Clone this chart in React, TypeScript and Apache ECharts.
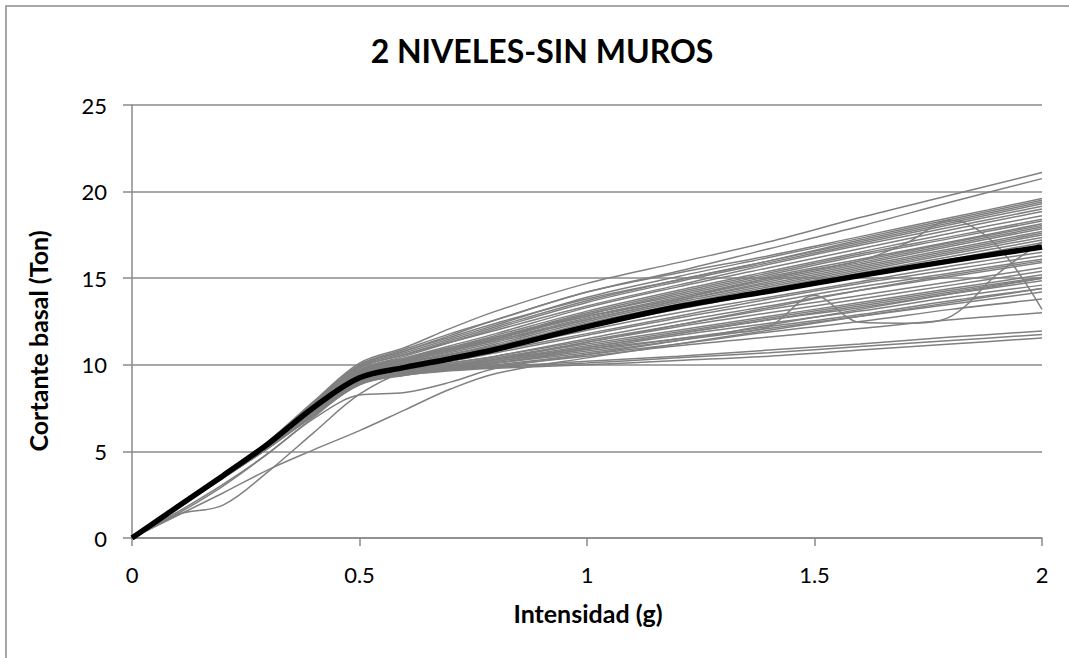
import React, { useEffect, useRef } from "react";
import * as echarts from "echarts";

// Intensity grids (g)
const intensity = [0, 0.1, 0.2, 0.3, 0.4, 0.5, 0.6, 0.7, 0.8, 1.0, 1.2, 1.4, 1.6, 1.8, 2.0];
const intensityFine = [0, 0.1, 0.2, 0.3, 0.4, 0.5, 0.6, 0.7, 0.8, 0.9, 1.0, 1.1, 1.2, 1.3, 1.4, 1.5, 1.6, 1.7, 1.8, 1.9, 2.0];

const xTickLabels = ["0", "0.5", "1", "1.5", "2"];
const yTickLabels = ["0", "5", "10", "15", "20", "25"];

const chartTitle = "2 NIVELES-SIN MUROS";
const xName = "Intensidad (g)";
const yName = "Cortante basal (Ton)";

// Individual records (base shear, Ton) on the coarse grid
const run01 = [0, 1.8, 3.65, 5.6, 7.9, 10.1, 11.0, 12.1, 13.1, 14.7, 15.9, 17.1, 18.5, 19.8, 21.1];
const run02 = [0, 1.8, 3.65, 5.55, 7.8, 10.0, 10.8, 11.7, 12.6, 14.2, 15.4, 16.7, 18.0, 19.4, 20.75];
const run03 = [0, 1.8, 3.65, 5.6, 7.85, 10.0, 10.9, 11.8, 12.6, 14.2, 15.3, 16.3, 17.4, 18.5, 19.6];
const run04 = [0, 1.8, 3.6, 5.5, 7.7, 9.9, 10.7, 11.5, 12.3, 13.9, 15.1, 16.2, 17.3, 18.4, 19.5];
const run05 = [0, 1.8, 3.65, 5.55, 7.8, 9.95, 10.8, 11.6, 12.4, 13.8, 14.9, 16.0, 17.2, 18.3, 19.4];
const run06 = [0, 1.8, 3.6, 5.5, 7.7, 9.8, 10.6, 11.4, 12.2, 13.7, 14.9, 16.0, 17.1, 18.2, 19.3];
const run07 = [0, 1.8, 3.6, 5.45, 7.6, 9.7, 10.5, 11.3, 12.1, 13.6, 14.8, 15.9, 17.0, 18.1, 19.15];
const run08 = [0, 1.8, 3.6, 5.5, 7.7, 9.85, 10.6, 11.3, 12.0, 13.4, 14.6, 15.8, 16.9, 17.95, 19.0];
const run09 = [0, 1.8, 3.6, 5.45, 7.6, 9.7, 10.4, 11.1, 11.8, 13.3, 14.5, 15.6, 16.7, 17.8, 18.85];
const run10 = [0, 1.8, 3.6, 5.45, 7.55, 9.6, 10.3, 11.0, 11.7, 13.1, 14.3, 15.4, 16.5, 17.6, 18.6];
const run11 = [0, 1.8, 3.6, 5.5, 7.65, 9.7, 10.4, 11.0, 11.6, 13.0, 14.2, 15.3, 16.4, 17.4, 18.4];
const run12 = [0, 1.8, 3.6, 5.45, 7.55, 9.6, 10.3, 10.9, 11.6, 12.9, 14.1, 15.2, 16.3, 17.3, 18.3];
const run13 = [0, 1.8, 3.55, 5.4, 7.5, 9.5, 10.2, 10.8, 11.5, 12.9, 14.0, 15.1, 16.1, 17.1, 18.15];
const run14 = [0, 1.8, 3.6, 5.45, 7.6, 9.65, 10.3, 10.9, 11.5, 12.8, 13.9, 15.0, 16.0, 17.05, 18.05];
const run15 = [0, 1.8, 3.6, 5.4, 7.5, 9.55, 10.2, 10.8, 11.4, 12.7, 13.8, 14.9, 15.9, 16.95, 17.95];
const run16 = [0, 1.8, 3.55, 5.4, 7.45, 9.5, 10.1, 10.7, 11.3, 12.6, 13.7, 14.8, 15.8, 16.85, 17.85];
const run17 = [0, 1.8, 3.6, 5.45, 7.55, 9.6, 10.2, 10.8, 11.4, 12.6, 13.7, 14.7, 15.7, 16.7, 17.7];
const run18 = [0, 1.8, 3.55, 5.4, 7.5, 9.5, 10.1, 10.6, 11.2, 12.5, 13.6, 14.6, 15.6, 16.6, 17.6];
const run19 = [0, 1.8, 3.6, 5.4, 7.5, 9.5, 10.1, 10.6, 11.1, 12.4, 13.5, 14.5, 15.5, 16.5, 17.5];
const run20 = [0, 1.8, 3.55, 5.35, 7.4, 9.4, 10.0, 10.5, 11.0, 12.3, 13.4, 14.4, 15.4, 16.4, 17.35];
const run21 = [0, 1.8, 3.6, 5.45, 7.55, 9.6, 10.2, 10.6, 11.1, 12.3, 13.3, 14.3, 15.3, 16.25, 17.2];
const run22 = [0, 1.8, 3.55, 5.4, 7.45, 9.45, 10.0, 10.5, 11.0, 12.2, 13.2, 14.2, 15.2, 16.1, 17.05];
const run23 = [0, 1.8, 3.55, 5.35, 7.4, 9.3, 9.9, 10.4, 10.9, 12.0, 13.0, 13.9, 14.8, 15.7, 16.5];
const run24 = [0, 1.8, 3.6, 5.4, 7.45, 9.35, 9.9, 10.3, 10.8, 11.8, 12.8, 13.8, 14.7, 15.5, 16.3];
const run25 = [0, 1.8, 3.55, 5.35, 7.35, 9.2, 9.8, 10.2, 10.7, 11.7, 12.7, 13.6, 14.5, 15.3, 16.1];
const run26 = [0, 1.75, 3.5, 5.3, 7.3, 9.1, 9.7, 10.1, 10.5, 11.5, 12.5, 13.4, 14.3, 15.1, 15.9];
const run27 = [0, 1.8, 3.55, 5.35, 7.35, 9.2, 9.75, 10.1, 10.5, 11.4, 12.3, 13.2, 14.0, 14.8, 15.6];
const run28 = [0, 1.75, 3.5, 5.3, 7.25, 9.0, 9.6, 10.0, 10.4, 11.3, 12.2, 13.0, 13.8, 14.6, 15.4];
const run29 = [0, 1.8, 3.55, 5.35, 7.3, 9.1, 9.7, 10.0, 10.4, 11.2, 12.0, 12.8, 13.6, 14.4, 15.2];
const run30 = [0, 1.75, 3.5, 5.25, 7.2, 9.0, 9.6, 9.9, 10.3, 11.1, 11.9, 12.7, 13.5, 14.3, 15.05];
const run31 = [0, 1.75, 3.5, 5.3, 7.25, 9.05, 9.6, 9.9, 10.2, 11.0, 11.8, 12.6, 13.3, 14.1, 14.85];
const run32 = [0, 1.75, 3.5, 5.25, 7.2, 9.0, 9.55, 9.85, 10.2, 10.9, 11.7, 12.4, 13.1, 13.9, 14.6];
const run33 = [0, 1.75, 3.5, 5.25, 7.15, 8.95, 9.5, 9.8, 10.1, 10.8, 11.5, 12.2, 12.9, 13.7, 14.4];
const run34 = [0, 1.75, 3.5, 5.3, 7.2, 9.0, 9.5, 9.8, 10.1, 10.7, 11.4, 12.1, 12.8, 13.5, 14.2];
const run35 = [0, 1.75, 3.45, 5.2, 7.1, 8.9, 9.45, 9.75, 10.0, 10.6, 11.2, 11.9, 12.5, 13.2, 13.8];
const run36 = [0, 1.75, 3.5, 5.2, 7.1, 8.85, 9.4, 9.7, 9.95, 10.5, 11.1, 11.6, 12.1, 12.6, 13.0];
const run37 = [0, 1.75, 3.5, 5.25, 7.15, 8.95, 9.5, 9.75, 9.9, 10.2, 10.5, 10.85, 11.2, 11.6, 11.95];
const run38 = [0, 1.75, 3.45, 5.2, 7.1, 8.9, 9.45, 9.7, 9.85, 10.1, 10.4, 10.7, 11.05, 11.4, 11.75];
const run39 = [0, 1.75, 3.5, 5.2, 7.1, 8.85, 9.4, 9.65, 9.8, 10.0, 10.25, 10.5, 10.85, 11.2, 11.55];
const run40 = [0, 1.35, 1.9, 3.85, 6.1, 8.3, 9.6, 10.0, 10.3, 11.0, 11.8, 12.6, 13.4, 14.2, 15.0];
const run41 = [0, 1.3, 2.6, 3.95, 5.1, 6.2, 7.4, 8.6, 9.5, 10.4, 11.2, 12.0, 12.8, 13.6, 14.4];
const run42 = [0, 1.5, 3.1, 4.9, 6.9, 8.25, 8.4, 9.0, 9.8, 10.6, 11.4, 12.3, 13.2, 14.1, 15.0];
const run43 = [0, 1.4, 3.0, 4.9, 7.0, 8.9, 9.5, 9.9, 10.3, 11.3, 12.3, 13.3, 14.3, 15.2, 16.0];

// Records with local oscillations, on the fine grid
const run44 = [0, 1.75, 3.5, 5.25, 7.2, 8.9, 9.5, 9.8, 10.1, 10.5, 10.9, 11.2, 11.5, 11.8, 12.2, 14.0, 12.45, 12.4, 12.8, 15.2, 17.1];
const run45 = [0, 1.8, 3.6, 5.45, 7.6, 9.65, 10.3, 10.9, 11.5, 12.2, 12.8, 13.3, 13.8, 14.4, 15.0, 15.5, 16.0, 17.0, 18.35, 16.9, 13.2];

// Average curve
const meanRun = [0, 1.8, 3.6, 5.45, 7.55, 9.25, 9.85, 10.35, 10.9, 12.2, 13.35, 14.25, 15.15, 16.0, 16.8];

const coarseRuns = [
  run01, run02, run03, run04, run05, run06, run07, run08, run09, run10,
  run11, run12, run13, run14, run15, run16, run17, run18, run19, run20,
  run21, run22, run23, run24, run25, run26, run27, run28, run29, run30,
  run31, run32, run33, run34, run35, run36, run37, run38, run39, run40,
  run41, run42, run43,
];
const fineRuns = [run44, run45];

const FONT = "Lato, 'Open Sans', sans-serif";
const GRID_GRAY = "#8a8a8a";
const LINE_GRAY = "#808080";

function pair(xs: number[], ys: number[]) {
  return xs.map((x, i) => [x, ys[i]]);
}

export default function App() {
  const ref = useRef<HTMLDivElement>(null);

  useEffect(() => {
    if (!ref.current) return;
    const chart = echarts.init(ref.current, undefined, { renderer: "svg" });

    const graySeries: any[] = [];
    coarseRuns.forEach((ys, i) => {
      graySeries.push({
        type: "line",
        name: "r" + (i + 1),
        data: pair(intensity, ys),
        smooth: 0.35,
        symbol: "none",
        silent: true,
        lineStyle: { color: LINE_GRAY, width: 1.5 },
        z: 2,
      });
    });
    fineRuns.forEach((ys, i) => {
      graySeries.push({
        type: "line",
        name: "w" + (i + 1),
        data: pair(intensityFine, ys),
        smooth: 0.35,
        symbol: "none",
        silent: true,
        lineStyle: { color: LINE_GRAY, width: 1.5 },
        z: 2,
      });
    });

    const option: any = {
      animation: false,
      backgroundColor: "#ffffff",
      grid: { left: 132, right: 27, top: 105, bottom: 120, containLabel: false },
      xAxis: {
        type: "value",
        min: 0,
        max: 2,
        interval: 0.5,
        axisLine: { show: true, lineStyle: { color: GRID_GRAY, width: 1.5 } },
        axisTick: { show: true, length: 8, lineStyle: { color: GRID_GRAY, width: 1.5 } },
        splitLine: { show: false },
        axisLabel: {
          color: "#000",
          fontFamily: FONT,
          fontSize: 22,
          margin: 25,
          formatter: (v: number) => {
            const idx = Math.round(v / 0.5);
            return xTickLabels[idx] ?? String(v);
          },
        },
      },
      yAxis: {
        type: "value",
        min: 0,
        max: 25,
        interval: 5,
        axisLine: { show: true, lineStyle: { color: GRID_GRAY, width: 1.5 } },
        axisTick: { show: true, length: 9, lineStyle: { color: GRID_GRAY, width: 1.5 } },
        splitLine: { show: true, lineStyle: { color: GRID_GRAY, width: 1.5 } },
        axisLabel: {
          color: "#000",
          fontFamily: FONT,
          fontSize: 22,
          margin: 25,
          formatter: (v: number) => {
            const idx = Math.round(v / 5);
            return yTickLabels[idx] ?? String(v);
          },
        },
      },
      graphic: [
        {
          type: "rect",
          shape: { x: 6, y: 6, width: 1200, height: 800 },
          style: { fill: "none", stroke: GRID_GRAY, lineWidth: 1.5 },
          silent: true,
          z: -1,
        },
        {
          type: "text",
          x: 542,
          y: 50,
          style: {
            text: chartTitle,
            fontFamily: FONT,
            fontWeight: "bold",
            fontSize: 32,
            fill: "#000",
            align: "center",
            verticalAlign: "middle",
          },
        },
        {
          type: "text",
          x: 588,
          y: 613,
          style: {
            text: xName,
            fontFamily: FONT,
            fontWeight: "bold",
            fontSize: 25,
            fill: "#000",
            align: "center",
            verticalAlign: "middle",
          },
        },
        {
          type: "text",
          x: 38,
          y: 341,
          rotation: Math.PI / 2,
          style: {
            text: yName,
            fontFamily: FONT,
            fontWeight: "bold",
            fontSize: 25,
            fill: "#000",
            align: "center",
            verticalAlign: "middle",
          },
        },
      ],
      series: [
        ...graySeries,
        {
          type: "line",
          name: "Promedio",
          data: pair(intensity, meanRun),
          smooth: 0.35,
          symbol: "none",
          silent: true,
          lineStyle: { color: "#000000", width: 5.5 },
          z: 5,
        },
      ],
    };

    chart.setOption(option);
    return () => chart.dispose();
  }, []);

  return (
    <div
      ref={ref}
      style={{ position: "fixed", left: 0, top: 0, width: 1069, height: 658, background: "#fff" }}
    />
  );
}
